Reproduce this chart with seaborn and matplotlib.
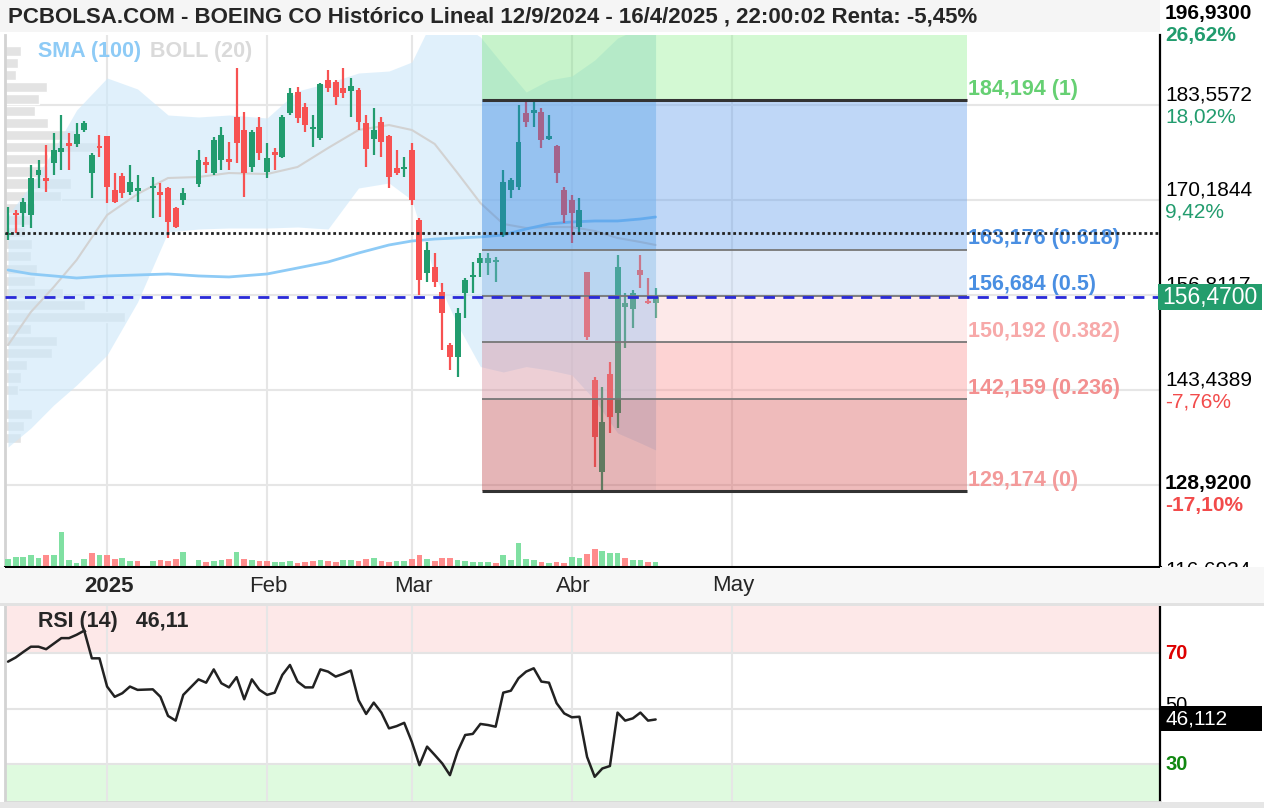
import numpy as np
import pandas as pd
import matplotlib
matplotlib.use("Agg")
import matplotlib.pyplot as plt
import matplotlib.transforms as mtransforms
from matplotlib.patches import Rectangle
import seaborn as sns

sns.set_theme(style="white")
plt.rcParams["font.family"] = ["Liberation Sans", "DejaVu Sans"]

# ---------------- data ----------------
# trading-day slots starting 12 Dec 2024 (09 Jan kept as a slot)
holidays = ["2024-12-25", "2025-01-01", "2025-01-20", "2025-02-17",
            "2025-04-18", "2025-05-26", "2025-06-19", "2025-07-04"]
month_labels = ["2025", "Feb", "Mar", "Abr", "May"]

open_ = [165.30, 168.35, 168.35, 168.07, 173.70, 173.28, 175.39, 176.94, 178.21, 178.07,
         180.04, 173.98, 177.79, 179.19, 171.59, 173.56, 171.31, 171.45, None, 171.87,
         171.31, 171.87, 169.06, 170.18, None, 172.44, 175.53, 173.98, 175.81, 175.96,
         181.87, 180.04, 174.83, 180.46, 174.13, 176.94, 176.24, 182.43, 185.39, 183.28,
         180.18, 178.91, 187.08, 186.80, 185.95, 185.53, 185.67, 181.02, 178.77, 181.16,
         179.19, 174.69, 174.55, 177.22, 167.37, 159.91, 160.75, 157.23, 149.77, 148.08,
         157.09, 159.35, 161.32, 161.32, 161.46, 165.26, 171.59, 172.02, 182.43, 182.43,
         182.57, 178.77, 177.79, 171.59, 170.18, 166.38, 160.05, 144.85, 131.89, 145.69,
         140.20, 155.12, 154.84, 160.33, 155.82, 155.68]
high = [169.20, 168.77, 170.47, 175.11, 175.81, 177.93, 179.61, 182.15, 179.61, 181.02,
        181.30, 176.80, 179.33, 179.19, 173.98, 173.98, 175.11, 173.70, None, 173.42,
        172.58, 172.02, 169.20, 171.87, None, 177.22, 176.24, 179.05, 180.46, 178.35,
        188.77, 182.57, 180.04, 181.87, 178.21, 177.50, 182.15, 185.95, 186.09, 183.84,
        182.15, 186.65, 188.48, 187.08, 188.77, 187.36, 185.95, 182.15, 183.14, 181.87,
        179.33, 177.22, 176.24, 178.21, 167.65, 164.27, 162.72, 158.50, 150.05, 154.98,
        159.20, 161.46, 162.72, 162.72, 162.16, 174.41, 173.28, 183.56, 184.19, 183.98,
        183.14, 182.15, 177.93, 172.02, 170.89, 170.47, 160.05, 145.27, 143.86, 147.38,
        162.44, 157.09, 157.51, 162.44, 159.20, 157.79]
low = [164.60, 165.54, 166.38, 166.24, 171.87, 171.31, 173.70, 174.41, 174.41, 177.65,
       179.76, 170.47, 176.24, 169.76, 169.76, 170.47, 170.89, 169.90, None, 167.65,
       167.79, 164.84, 166.24, 169.48, None, 172.02, 173.98, 173.70, 174.41, 174.41,
       175.39, 170.60, 174.13, 175.81, 173.28, 174.41, 176.10, 182.15, 181.02, 179.76,
       177.65, 178.63, 185.39, 183.56, 184.54, 181.87, 180.04, 174.83, 176.52, 176.24,
       171.87, 173.70, 173.42, 169.48, 156.81, 158.64, 157.94, 149.07, 146.25, 145.27,
       153.57, 157.09, 159.35, 159.63, 158.64, 164.98, 170.47, 171.59, 180.46, 180.46,
       177.50, 178.63, 172.58, 166.95, 164.13, 165.68, 150.48, 132.60, 128.92, 137.38,
       138.09, 149.35, 152.16, 157.79, 155.54, 153.57]
close_ = [165.49, 168.07, 169.90, 173.28, 174.40, 172.86, 177.22, 177.50, 177.79, 179.48,
          181.02, 176.52, 177.51, 172.02, 169.90, 171.17, 172.72, 171.87, None, 172.16,
          170.89, 167.09, 166.38, 171.17, None, 175.81, 175.11, 178.63, 179.33, 175.53,
          178.21, 173.98, 179.76, 176.80, 176.10, 176.52, 181.87, 185.25, 181.73, 180.74,
          180.46, 186.51, 185.95, 184.68, 185.25, 186.23, 181.16, 177.36, 180.04, 178.35,
          173.42, 173.98, 174.83, 170.18, 158.92, 163.15, 158.64, 154.28, 148.08, 154.28,
          158.92, 159.63, 162.02, 162.02, 161.74, 172.72, 172.98, 178.35, 181.16, 182.85,
          178.63, 179.19, 173.98, 168.07, 168.35, 168.77, 150.90, 136.82, 138.93, 139.64,
          160.75, 155.68, 157.09, 159.63, 155.68, 156.47]
volume = [8, 10, 10, 12, 9, 12, 12, 35, 7, 4,
          8, 14, 12, 12, 8, 9, 6, 6, None, 6,
          7, 6, 8, 15, None, 7, 5, 6, 7, 8,
          15, 8, 7, 6, 6, 5, 5, 6, 4, 5,
          6, 7, 6, 5, 7, 7, 6, 8, 9, 6,
          5, 6, 6, 8, 12, 8, 6, 9, 9, 7,
          6, 5, 5, 5, 4, 12, 7, 24, 8, 7,
          5, 4, 5, 4, 10, 9, 13, 18, 16, 14,
          14, 9, 7, 7, 5, 5]
rsi = [67.0, 68.5, 70.5, 72.4, 72.4, 71.5, 73.5, 75.5, 75.5, 76.7,
       78.2, 68.2, 68.2, 58.0, 54.3, 55.6, 58.0, 56.8, None, 57.0,
       54.3, 47.4, 45.7, 55.0, None, 60.6, 59.4, 64.2, 59.2, 57.7,
       61.4, 53.4, 60.6, 56.8, 55.0, 55.8, 62.2, 65.8, 59.8, 57.7,
       57.7, 64.2, 63.4, 61.6, 62.6, 63.8, 53.1, 48.1, 52.2, 48.6,
       42.9, 43.7, 44.9, 38.0, 29.6, 36.3, 33.3, 30.2, 26.0, 34.5,
       40.5, 40.9, 44.5, 44.1, 43.5, 55.8, 56.5, 61.0, 63.4, 64.6,
       59.8, 59.4, 52.0, 48.3, 46.9, 47.1, 32.6, 25.4, 28.4, 29.3,
       48.6, 45.7, 46.5, 48.6, 45.7, 46.112]

# Bollinger (20) and SMA (100), read at these slots
band_idx = [0, 3, 6, 9, 13, 17, 21, 25, 29, 34, 38, 42, 46, 50, 53, 56, 59, 62,
            65, 68, 71, 74, 77, 80, 83, 85]
boll_up = [168.07, 172.30, 177.22, 182.85, 187.36, 185.81, 182.15, 181.87, 182.15,
           181.73, 185.53, 186.65, 188.06, 188.34, 189.61, 196.23, 195.38, 193.13,
           189.19, 185.39, 187.08, 187.64, 189.89, 192.99, 194.40, 194.82]
boll_mid = [149.77, 154.42, 157.94, 161.74, 168.07, 171.03, 173.28, 173.42, 173.98,
            173.84, 174.83, 177.50, 180.04, 180.74, 180.04, 178.07, 173.98, 169.76,
            166.81, 166.24, 166.38, 166.38, 165.82, 164.84, 164.27, 163.85]
boll_low = [135.41, 138.09, 141.33, 144.14, 148.37, 155.83, 165.68, 166.10, 166.24,
            166.24, 166.38, 166.10, 171.87, 172.58, 170.18, 159.62, 152.59, 146.73,
            145.97, 146.73, 146.25, 145.55, 142.03, 137.38, 135.98, 134.99]
sma100 = [160.33, 159.77, 159.49, 159.20, 159.49, 159.63, 159.77, 159.49, 159.35,
          159.77, 160.61, 161.46, 162.72, 163.85, 164.41, 164.69, 164.84, 164.98,
          165.26, 166.10, 166.81, 167.09, 167.23, 167.23, 167.51, 167.79]

# volume profile (left side)
profile_price = [191.2, 189.5, 187.8, 186.1, 184.4, 182.7, 181.0, 179.3, 177.6, 175.9,
                 174.2, 172.5, 170.8, 169.1, 167.4, 165.7, 164.0, 162.3, 160.5, 158.8,
                 157.1, 155.4, 153.7, 152.0, 150.3, 148.6, 146.9, 145.2, 143.5, 141.8,
                 140.1, 138.4, 136.7]
profile_vol = [16, 13, 11, 42, 34, 30, 43, 70, 93, 43, 43, 66, 56, 30, 25, 20, 27,
               26, 32, 30, 58, 80, 120, 26, 52, 47, 22, 16, 13, 0, 27, 19, 16]

# Fibonacci retracement
fib_levels = [184.194, 163.176, 156.684, 150.192, 142.159, 129.174]
fib_ratios = ["1", "0.618", "0.5", "0.382", "0.236", "0"]
fib_from, fib_mid, fib_to = "2025-03-14", "2025-04-16", "2025-06-16"

# right-hand scale labels
scale_vals = [196.93, 183.5572, 170.1844, 156.8117, 143.4389, 128.92, 116.6934]
scale_pct = ["26,62%", "18,02%", "9,42%", "", "-7,76%", "-17,10%", ""]

title = "PCBOLSA.COM - BOEING CO Histórico Lineal 12/9/2024 - 16/4/2025 , 22:00:02 Renta: -5,45%"

# ---------------- prep ----------------
slots = pd.bdate_range("2024-12-12", "2025-07-31")
slots = slots[~slots.isin(pd.to_datetime(holidays))]
pos = pd.Series(np.arange(len(slots)), index=slots)
firsts = pos.groupby([slots.year, slots.month]).first()
month_pos = [firsts[(2025, m)] for m in range(1, 6)]

o = np.array(open_, dtype=float)
h = np.array(high, dtype=float)
l = np.array(low, dtype=float)
c = np.array(close_, dtype=float)
v = np.array(volume, dtype=float)
r = np.array(rsi, dtype=float)
idx = np.arange(len(c))
ok = ~np.isnan(c)

W, H = 1264, 808
fx = lambda px: px / W
fy = lambda py: 1 - py / H

GREEN, RED = "#229c6e", "#f75252"
NARROW = ["Liberation Sans Narrow", "Liberation Sans"]
XL = (-0.4, 151.2)
YL = (118.52, 193.41)

fig = plt.figure(figsize=(W / 100, H / 100), dpi=100)
fig.patch.set_facecolor("white")

# ---------------- main price panel ----------------
ax = fig.add_axes([fx(5), fy(567), (1160 - 5) / W, (567 - 35) / H])
ax.set_xlim(*XL)
ax.set_ylim(*YL)
ax.set_xticks([])
ax.set_yticks([])
ax.spines["top"].set_visible(False)
ax.spines["left"].set_color("#d3d3d3")
ax.spines["left"].set_linewidth(2)
ax.spines["right"].set_color("black")
ax.spines["right"].set_linewidth(1.6)
ax.spines["bottom"].set_color("black")
ax.spines["bottom"].set_linewidth(2.2)

for mp in month_pos:
    ax.axvline(mp, color="#e6e6e6", lw=1.5, zorder=0.5)
for sv in scale_vals[1:5] + [130.0661]:
    ax.axhline(sv, color="#e6e6e6", lw=1.5, zorder=0.5)

# volume profile
ax.barh(profile_price, np.array(profile_vol) / 7.62, left=XL[0], height=1.42,
        color="#e3e3e3", zorder=1)

# bollinger band + lines
ax.fill_between(band_idx, boll_low, boll_up, color="#cde8fa", alpha=0.62, lw=0, zorder=2)
sns.lineplot(x=band_idx, y=boll_mid, ax=ax, color="#d2d2d2", linewidth=1.5, zorder=3)
sns.lineplot(x=band_idx, y=sma100, ax=ax, color="#8ecbf6", linewidth=2.0, zorder=3)

# candles
up = c[ok] >= o[ok]
cols = np.where(up, GREEN, RED)
ax.vlines(idx[ok], l[ok], h[ok], colors=cols, lw=1.6, zorder=4)
body = np.maximum(np.abs(c[ok] - o[ok]), 0.3)
ax.bar(idx[ok], body, bottom=np.minimum(o[ok], c[ok]), width=0.78, color=cols,
       lw=0, zorder=4.5)

# fibonacci zones (translucent, over the candles)
x0, x1, x2 = pos[fib_from] + 0.2, pos[fib_mid], pos[fib_to] - 0.15
edges = [YL[1] + 5] + fib_levels
left_cols = ["#75e37d", "#287de1", "#82b1e3", "#bbafd4", "#d48998", "#c0484d"]
right_cols = ["#91f291", "#5f9ded", "#b6cff2", "#fac8ca", "#fc9191", "#d75757"]
for k in range(6):
    top, bot = edges[k], edges[k + 1]
    ax.add_patch(Rectangle((x0, bot), x1 - x0, top - bot, color=left_cols[k],
                           alpha=0.4, lw=0, zorder=5))
    ax.add_patch(Rectangle((x1, bot), x2 - x1, top - bot, color=right_cols[k],
                           alpha=0.4, lw=0, zorder=5))
fib_txt_cols = ["#66d073", "#4a8fe2", "#4a8fe2", "#f7a9a9", "#f39090", "#f39a9a"]
for k, (lv, rt) in enumerate(zip(fib_levels, fib_ratios)):
    strong = k in (0, 5)
    ax.hlines(lv, x0, x2, color="#333333" if strong else "#777777",
              lw=2.2 if strong else 1.3, zorder=6)
    ax.annotate(f"{lv:.3f}".replace(".", ",") + f" ({rt})", xy=(x2, lv),
                xytext=(1, 11), textcoords="offset pixels", va="center", ha="left",
                fontsize=15.5, fontweight="bold", color=fib_txt_cols[k], zorder=7)

# reference lines: first close and last close
ax.axhline(c[0], color="#222222", lw=2, ls=(0, (1, 1)), zorder=7)
ax.axhline(c[-1], color="#2a2ad8", lw=2, ls=(0, (4, 3)), zorder=7)

# volume bars
axv = ax.twinx()
axv.set_ylim(0, 532)
axv.set_xlim(*XL)
axv.set_yticks([])
for s in axv.spines.values():
    s.set_visible(False)
prev = np.concatenate([[c[ok][0]], c[ok][:-1]])
vcols = np.where(c[ok] >= prev, "#80e0a2", "#ff8c8c")
axv.bar(idx[ok], v[ok], width=0.75, color=vcols, lw=0)

fig.text(fx(38), fy(52), "SMA (100)", color="#8ecbf6", fontsize=15.5,
         fontweight="bold", va="center")
fig.text(fx(150), fy(52), "BOLL (20)", color="#dadada", fontsize=15.5,
         fontweight="bold", va="center")

# ---------------- RSI panel ----------------
axr = fig.add_axes([fx(5), fy(802), (1160 - 5) / W, (802 - 606) / H])
axr.set_xlim(*XL)
axr.set_ylim(16.3, 87.1)
axr.set_xticks([])
axr.set_yticks([])
axr.spines["top"].set_visible(False)
axr.spines["left"].set_color("#d3d3d3")
axr.spines["left"].set_linewidth(2)
axr.spines["bottom"].set_color("#d8d8d8")
axr.spines["bottom"].set_linewidth(2)
axr.spines["right"].set_color("black")
axr.spines["right"].set_linewidth(1.6)
axr.axhspan(70, 100, color="#fde8e8", lw=0, zorder=0)
axr.axhspan(0, 30, color="#dffadf", lw=0, zorder=0)
for lv in (70, 50, 30):
    axr.axhline(lv, color="#e4e4e4", lw=1.5, zorder=0.5)
for mp in month_pos:
    axr.axvline(mp, color="#e6e6e6", lw=1.5, zorder=0.5)
rok = ~np.isnan(r)
sns.lineplot(x=idx[rok], y=r[rok], ax=axr, color="#222222", linewidth=1.8, zorder=3)
fig.text(fx(38), fy(622), f"RSI (14)   {r[-1]:.2f}".replace(".", ","), fontsize=15.5,
         fontweight="bold", va="center", family=NARROW)

# ---------------- frame pieces ----------------
fig.add_artist(Rectangle((0, fy(32)), fx(1160), 32 / H, transform=fig.transFigure,
                         color="#f5f5f5", lw=0, zorder=0))
fig.text(fx(8), fy(17), title, fontsize=16, fontweight="bold", va="center", zorder=4)

fig.add_artist(Rectangle((0, fy(603)), 1, 36 / H, transform=fig.transFigure,
                         color="#f7f7f7", lw=0, zorder=5))
fig.add_artist(Rectangle((0, fy(606)), 1, 3 / H, transform=fig.transFigure,
                         color="#e2e2e2", lw=0, zorder=5))
fig.add_artist(Rectangle((0, 0), 1, 6 / H, transform=fig.transFigure,
                         color="#e6e6e6", lw=0, zorder=5))
fig.add_artist(Rectangle((fx(5), fy(568)), (1160 - 5) / W, 2 / H, transform=fig.transFigure,
                         color="black", lw=0, zorder=6))

# month labels
bt = mtransforms.blended_transform_factory(ax.transData, fig.transFigure)
for k, (mp, lab) in enumerate(zip(month_pos, month_labels)):
    fig.text(mp + 0.2, fy(586), lab, transform=bt, ha="center", va="center", fontsize=16,
             fontweight="bold" if k == 0 else "normal", zorder=7, family=NARROW)

# right price scale
rt = mtransforms.blended_transform_factory(fig.transFigure, ax.transData)
for k, (sv, pc) in enumerate(zip(scale_vals, scale_pct)):
    bold = k in (0, 5)
    up_off, dn_off = (-4, -26) if k == 0 else (10, -12)
    ax.annotate(f"{sv:.4f}".replace(".", ","), xy=(fx(1165), sv), xycoords=rt,
                xytext=(0, up_off), textcoords="offset pixels", va="center", ha="left",
                fontsize=15, fontweight="bold" if bold else "normal", color="black",
                annotation_clip=False, zorder=3)
    if pc:
        ax.annotate(pc, xy=(fx(1165), sv), xycoords=rt, xytext=(0, dn_off),
                    textcoords="offset pixels", va="center", ha="left", fontsize=15,
                    fontweight="bold" if bold else "normal",
                    color=GREEN if not pc.startswith("-") else "#f24b4b",
                    annotation_clip=False, zorder=3)

# last price box
ly = ax.transData.transform((0, c[-1]))[1]
box = Rectangle((fx(1158), (ly - 13) / H), 104 / W, 26 / H, transform=fig.transFigure,
                color="#249d6d", lw=0, zorder=8)
fig.add_artist(box)
t = fig.text(fx(1162), ly / H, f"{c[-1]:.4f}".replace(".", ","), color="white",
             fontsize=16.5, va="center", zorder=9)
t.set_clip_path(box)

# RSI scale labels and box
rr = mtransforms.blended_transform_factory(fig.transFigure, axr.transData)
for lv, colr, wt in [(70, "#dd0000", "bold"), (50, "black", "normal"), (30, "#118811", "bold")]:
    axr.annotate(str(lv), xy=(fx(1165), lv), xycoords=rr, xytext=(0, 3 if lv == 50 else 0),
                 textcoords="offset pixels", va="center", ha="left", fontsize=14.5,
                 fontweight=wt, color=colr, annotation_clip=False)
ry = axr.transData.transform((0, r[-1]))[1]
rbox = Rectangle((fx(1160), (ry - 12) / H), 102 / W, 25 / H, transform=fig.transFigure,
                 color="black", lw=0, zorder=8)
fig.add_artist(rbox)
fig.text(fx(1165), ry / H, f"{r[-1]:.3f}".replace(".", ","), color="white", fontsize=15,
         va="center", zorder=9)

fig.savefig("out.png", dpi=100)
